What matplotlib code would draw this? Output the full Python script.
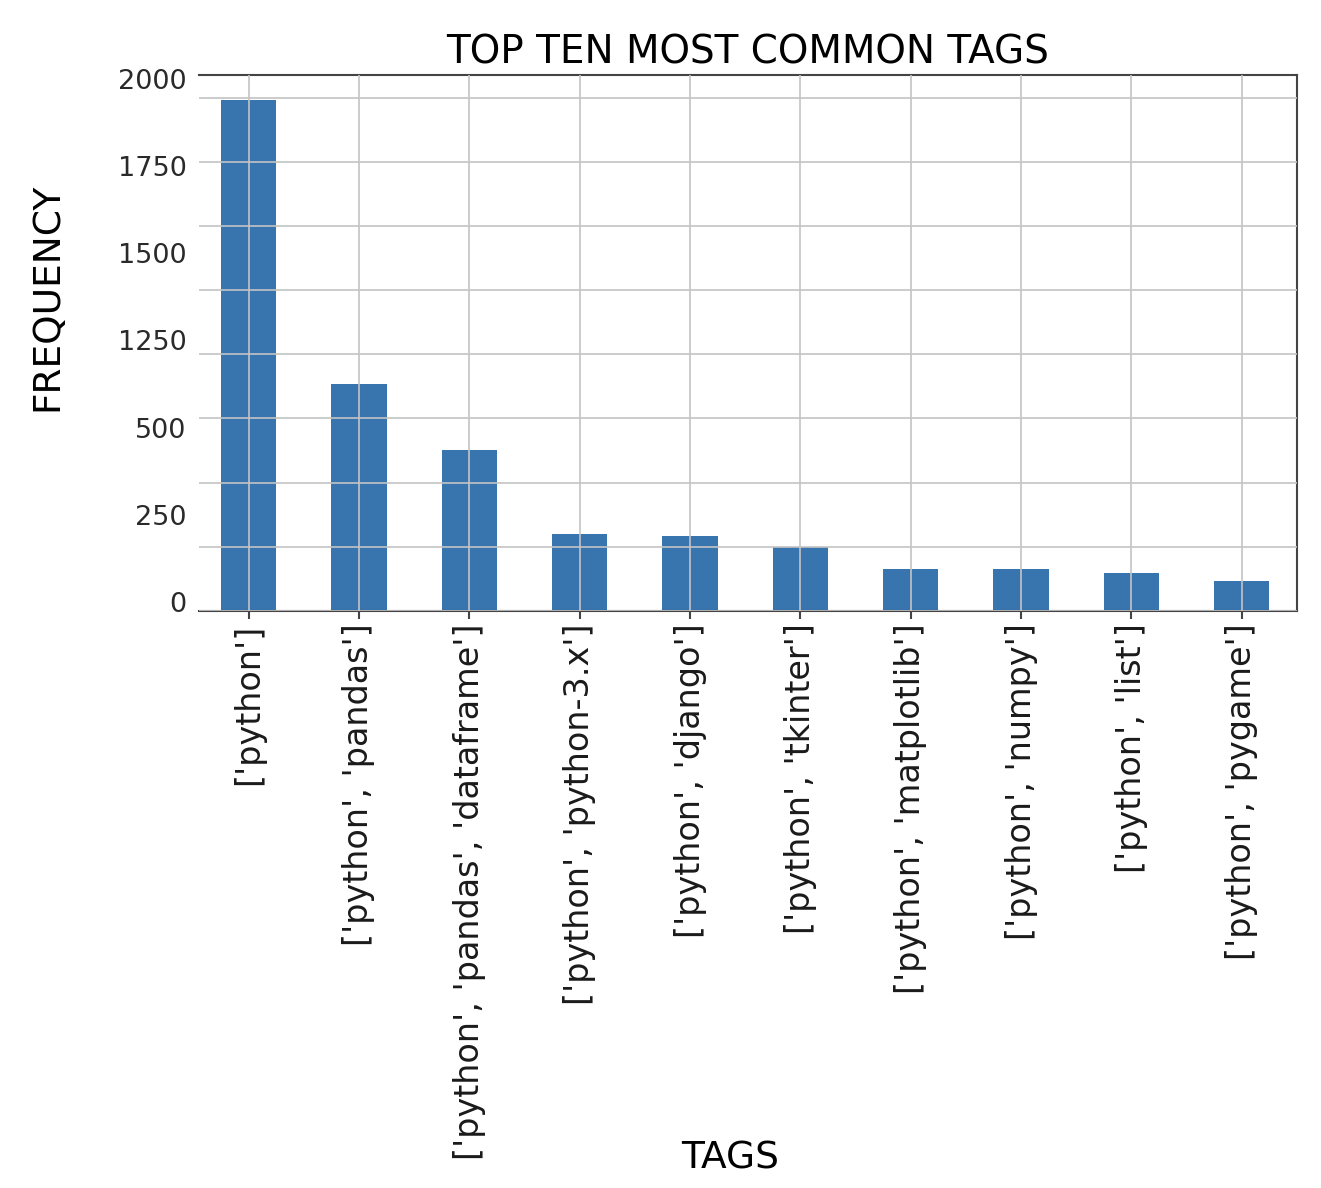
#!/usr/bin/env python3

"""
    Top ten most common tag combinations
"""

import matplotlib
matplotlib.use("Agg")
import matplotlib.pyplot as plt
import numpy as np

tags = [
    "['python']",
    "['python', 'pandas']",
    "['python', 'pandas', 'dataframe']",
    "['python', 'python-3.x']",
    "['python', 'django']",
    "['python', 'tkinter']",
    "['python', 'matplotlib']",
    "['python', 'numpy']",
    "['python', 'list']",
    "['python', 'pygame']",
]
frequency = [1990, 883, 628, 299, 290, 247, 161, 161, 146, 116]

# the y labels in the source do not sit on the grid lines
ytick_labels = ["0", "250", "500", "1250", "1500", "1750", "2000"]

bar_color = "#3874ad"
spine_color = "#444444"
grid_color = "#c4c4c4"

plt.rcParams["font.family"] = "DejaVu Sans"

fig = plt.figure(figsize=(13.21, 11.88), dpi=100)
ax = fig.add_axes([0.1506, 0.4859, 0.8312, 0.4510])

x = np.arange(len(tags))
ax.bar(x, frequency, width=0.5, color=bar_color, zorder=1)

ax.set_xlim(-0.45, len(tags) - 0.5)
ax.set_ylim(0, max(frequency) * 1.05)

# grid
ax.set_yticks(np.arange(0, 2001, 250))
ax.set_xticks(x)
ax.set_axisbelow(False)
ax.grid(True, color=grid_color, linewidth=1.2, zorder=2)

ax.set_xticklabels(tags, rotation=90, fontsize=24, color="#1a1a1a")
ax.tick_params(axis="x", length=6, width=1.5, color=spine_color, pad=3)

ax.tick_params(axis="y", which="major", length=0, labelleft=False)
ax.set_yticks(np.linspace(34, 2074, len(ytick_labels)), minor=True)
ax.set_yticklabels(ytick_labels, minor=True, fontsize=19.5, color="#2a2a2a")
ax.tick_params(axis="y", which="minor", length=0, pad=9)

for side in ["top", "right", "bottom"]:
    ax.spines[side].set_color(spine_color)
    ax.spines[side].set_linewidth(1.5)
ax.spines["left"].set_visible(False)

ax.set_title("TOP TEN MOST COMMON TAGS", fontsize=28, pad=8)
ax.set_xlabel("TAGS", fontsize=27)
ax.set_ylabel("FREQUENCY", fontsize=27)
ax.xaxis.set_label_coords(0.4836, -0.988)
ax.yaxis.set_label_coords(-0.122, 0.586)

fig.savefig("out.png", dpi=100)
